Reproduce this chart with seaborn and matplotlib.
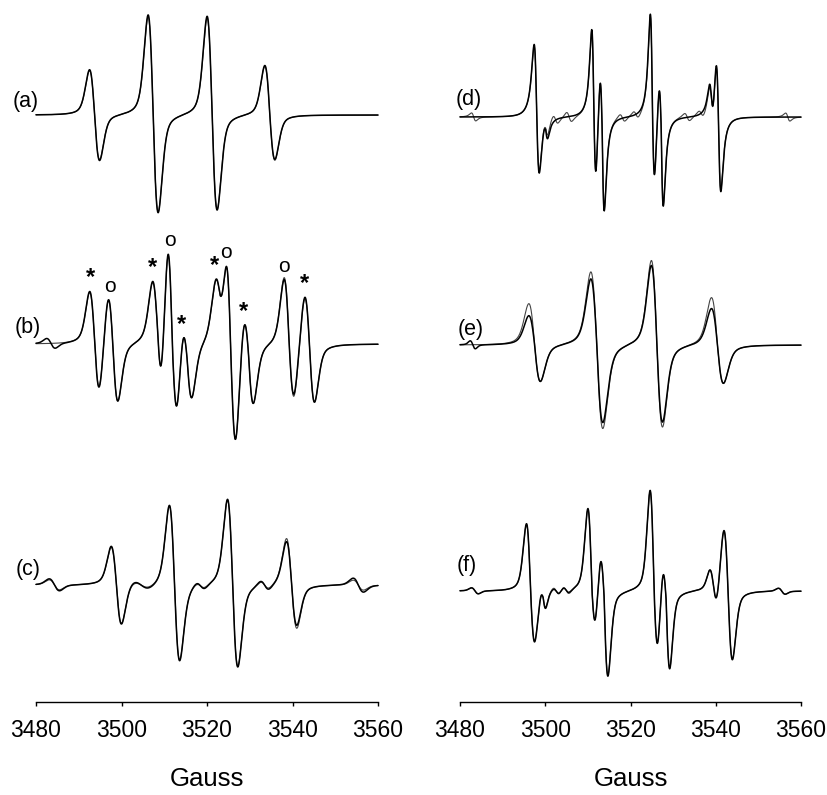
import numpy as np
import pandas as pd
import matplotlib
matplotlib.use('Agg')
import matplotlib.pyplot as plt
import seaborn as sns

# spectra, one row per line:
# centre (G), half peak-to-peak width (G), height of the low-field lobe (up) and of the
# high-field lobe (down); exp = measured trace, sim = simulated trace
a_centres = [3493.7, 3507.4, 3521.2, 3534.7]
a_widths = [1.17, 1.17, 1.17, 1.17]
a_up = [45, 100, 99, 50]
a_down = [46, 98, 95, 44]
a_sim_up = [44, 98, 97, 49]
a_sim_down = [45, 97, 94, 45]

b_centres = [3483.5, 3493.7, 3498.0, 3508.4, 3511.9, 3515.3, 3523.1, 3525.6, 3529.7, 3539.2, 3544.0]
b_widths = [1.0, 1.15, 1.15, 1.15, 1.15, 1.15, 1.15, 1.15, 1.15, 1.15, 1.15]
b_up = [5, 50, 54, 55, 118, 40, 50, 115, 42, 64, 54]
b_down = [5, 54, 56, 70, 78, 50, 40, 100, 55, 56, 56]
b_sim_up = [0, 49, 53, 54, 116, 40, 49, 114, 42, 66, 53]
b_sim_down = [0, 53, 56, 69, 78, 50, 40, 100, 55, 58, 56]
b_marks = ['*', 'o', '*', 'o', '*', '*', 'o', '*', 'o', '*']
b_mark_fields = [3492.7, 3497.3, 3507.3, 3511.3, 3514.1, 3521.8, 3524.5, 3528.6, 3538.1, 3542.9]

c_centres = [3484.3, 3498.8, 3504.6, 3512.4, 3518.5, 3526.0, 3533.5, 3539.8, 3555.4]
c_widths = [1.2, 1.2, 1.9, 1.2, 1.0, 1.2, 1.0, 1.2, 1.2]
c_up = [6, 38, 5, 80, 4, 86, 5, 44, 7]
c_down = [6, 41, 5, 76, 4, 82, 5, 40, 7]
c_sim_up = [5, 37, 4, 79, 3, 85, 4, 47, 5]
c_sim_down = [5, 40, 4, 75, 3, 81, 4, 43, 5]

d_centres = [3483.2, 3498.0, 3500.1, 3502.4, 3505.6, 3511.4, 3513.35, 3518.1, 3521.3,
             3525.15, 3527.2, 3533.3, 3536.6, 3539.0, 3540.65, 3556.9]
d_widths = [0.5, 0.6, 0.5, 0.6, 0.6, 0.5, 0.5, 0.6, 0.6, 0.5, 0.5, 0.6, 0.6, 0.5, 0.55, 0.5]
d_up = [0, 72, 6, 0, 0, 82, 56, 0, 0, 99, 45, 0, 0, 22, 62, 0]
d_down = [0, 58, 14, 0, 0, 72, 87, 0, 0, 70, 83, 0, 0, 20, 72, 0]
d_sim_up = [4, 70, 6, 5, 5, 80, 55, 4, 4, 97, 44, 4, 4, 20, 60, 4]
d_sim_down = [4, 56, 12, 5, 5, 71, 86, 4, 4, 69, 82, 4, 4, 19, 70, 4]

e_centres = [3483.0, 3497.5, 3512.1, 3526.2, 3540.4]
e_widths = [0.6, 1.35, 1.4, 1.3, 1.4]
e_up = [4, 29, 66, 80, 37]
e_down = [4, 37, 78, 77, 38]
e_sim_up = [0, 41, 73, 85, 48]
e_sim_down = [0, 37, 84, 82, 38]

f_centres = [3483.5, 3496.55, 3499.5, 3502.6, 3504.9, 3510.9, 3513.8, 3525.5, 3528.35,
             3539.45, 3542.9, 3555.5]
f_widths = [0.8, 0.95, 0.6, 0.7, 0.7, 0.9, 0.9, 0.9, 0.85, 0.85, 1.0, 0.8]
f_up = [3, 67, 8, 3, 3, 80, 45, 99, 38, 18, 64, 3]
f_down = [3, 52, 14, 3, 3, 45, 83, 65, 74, 20, 68, 3]
f_sim_up = [3, 66, 7, 4, 4, 79, 44, 98, 37, 18, 63, 3]
f_sim_down = [3, 51, 13, 4, 4, 44, 82, 64, 73, 19, 67, 3]

ticks = [3480, 3500, 3520, 3540, 3560]

field = np.linspace(3480, 3560, 3201)


def derivative_line(x, centre, up, down, width, lor):
    # first-derivative pseudo-Voigt: +up at centre-width, -down at centre+width
    u = (x - centre) / width
    gauss = -u * np.exp((1 - u ** 2) / 2)
    v = u / np.sqrt(3)
    lorentz = -2 * v / (1 + v ** 2) ** 2 / 0.6495
    shape = (1 - lor) * gauss + lor * lorentz
    return np.where(u < 0, up * shape, down * shape)


def spectrum(centres, widths, ups, downs, lor):
    y = np.zeros_like(field)
    for c, w, hu, hd in zip(centres, widths, ups, downs):
        y += derivative_line(field, c, hu, hd, w, lor)
    return y


sns.set_theme(style='white')
plt.rcParams['font.family'] = ['Liberation Sans', 'DejaVu Sans']
plt.rcParams['text.color'] = 'black'

fig = plt.figure(figsize=(8.27, 7.95), dpi=100)
ax_l = fig.add_axes([36 / 827, 93 / 795, 342 / 827, 702 / 795])
ax_r = fig.add_axes([460 / 827, 93 / 795, 341 / 827, 702 / 795])

# label, axes, baseline (px from top), label x (G), label y (px from top), lines, lorentz share
panels = [
    ('(a)', ax_l, 115, 3474.6, 102, (a_centres, a_widths, a_up, a_down, a_sim_up, a_sim_down), 0.35),
    ('(b)', ax_l, 344, 3475.1, 327, (b_centres, b_widths, b_up, b_down, b_sim_up, b_sim_down), 0.35),
    ('(c)', ax_l, 585, 3475.3, 570, (c_centres, c_widths, c_up, c_down, c_sim_up, c_sim_down), 0.35),
    ('(d)', ax_r, 117, 3479.0, 100, (d_centres, d_widths, d_up, d_down, d_sim_up, d_sim_down), 0.9),
    ('(e)', ax_r, 345, 3479.5, 329, (e_centres, e_widths, e_up, e_down, e_sim_up, e_sim_down), 0.4),
    ('(f)', ax_r, 591, 3479.3, 566, (f_centres, f_widths, f_up, f_down, f_sim_up, f_sim_down), 0.35),
]

for label, ax, base, lx, ly, (cen, wid, up, dn, sup, sdn), lor in panels:
    y_exp = spectrum(cen, wid, up, dn, lor) - base
    y_sim = spectrum(cen, wid, sup, sdn, lor) - base
    df = pd.DataFrame({'field': field, 'exp': y_exp, 'sim': y_sim})
    sns.lineplot(data=df, x='field', y='sim', ax=ax, color='#444444', linewidth=0.8,
                 estimator=None, sort=False)
    sns.lineplot(data=df, x='field', y='exp', ax=ax, color='black', linewidth=1.1,
                 estimator=None, sort=False)
    ax.text(lx, -ly, label, fontsize=15.5, color='black', ha='left', va='center', clip_on=False)
    if label == '(b)':
        # * and o markers over the peaks of the two species
        for m, fm in zip(b_marks, b_mark_fields):
            near = np.abs(field - fm) < 0.8
            top = y_exp[near].max()
            if m == '*':
                ax.text(fm, top + 2, m, fontsize=17, fontweight='bold', color='black',
                        ha='center', va='bottom')
            else:
                ax.text(fm, top + 4, m, fontsize=15, color='black', ha='center', va='bottom')

for ax in (ax_l, ax_r):
    ax.set_xlim(3480, 3560)
    ax.set_ylim(-702, 0)
    ax.set_xticks(ticks)
    ax.set_xticklabels([str(t) for t in ticks])
    ax.set_yticks([])
    ax.set_ylabel('')
    ax.set_xlabel('Gauss', fontsize=18.5, labelpad=18, color='black')
    for s in ('top', 'left', 'right'):
        ax.spines[s].set_visible(False)
    ax.spines['bottom'].set_color('black')
    ax.spines['bottom'].set_linewidth(1.0)
    ax.tick_params(axis='x', bottom=True, direction='out', length=3, width=1,
                   colors='black', labelsize=16.5, pad=9)
    ax.patch.set_alpha(0)
    for line in ax.get_lines():
        line.set_clip_on(False)

fig.savefig('out.png', dpi=100)
